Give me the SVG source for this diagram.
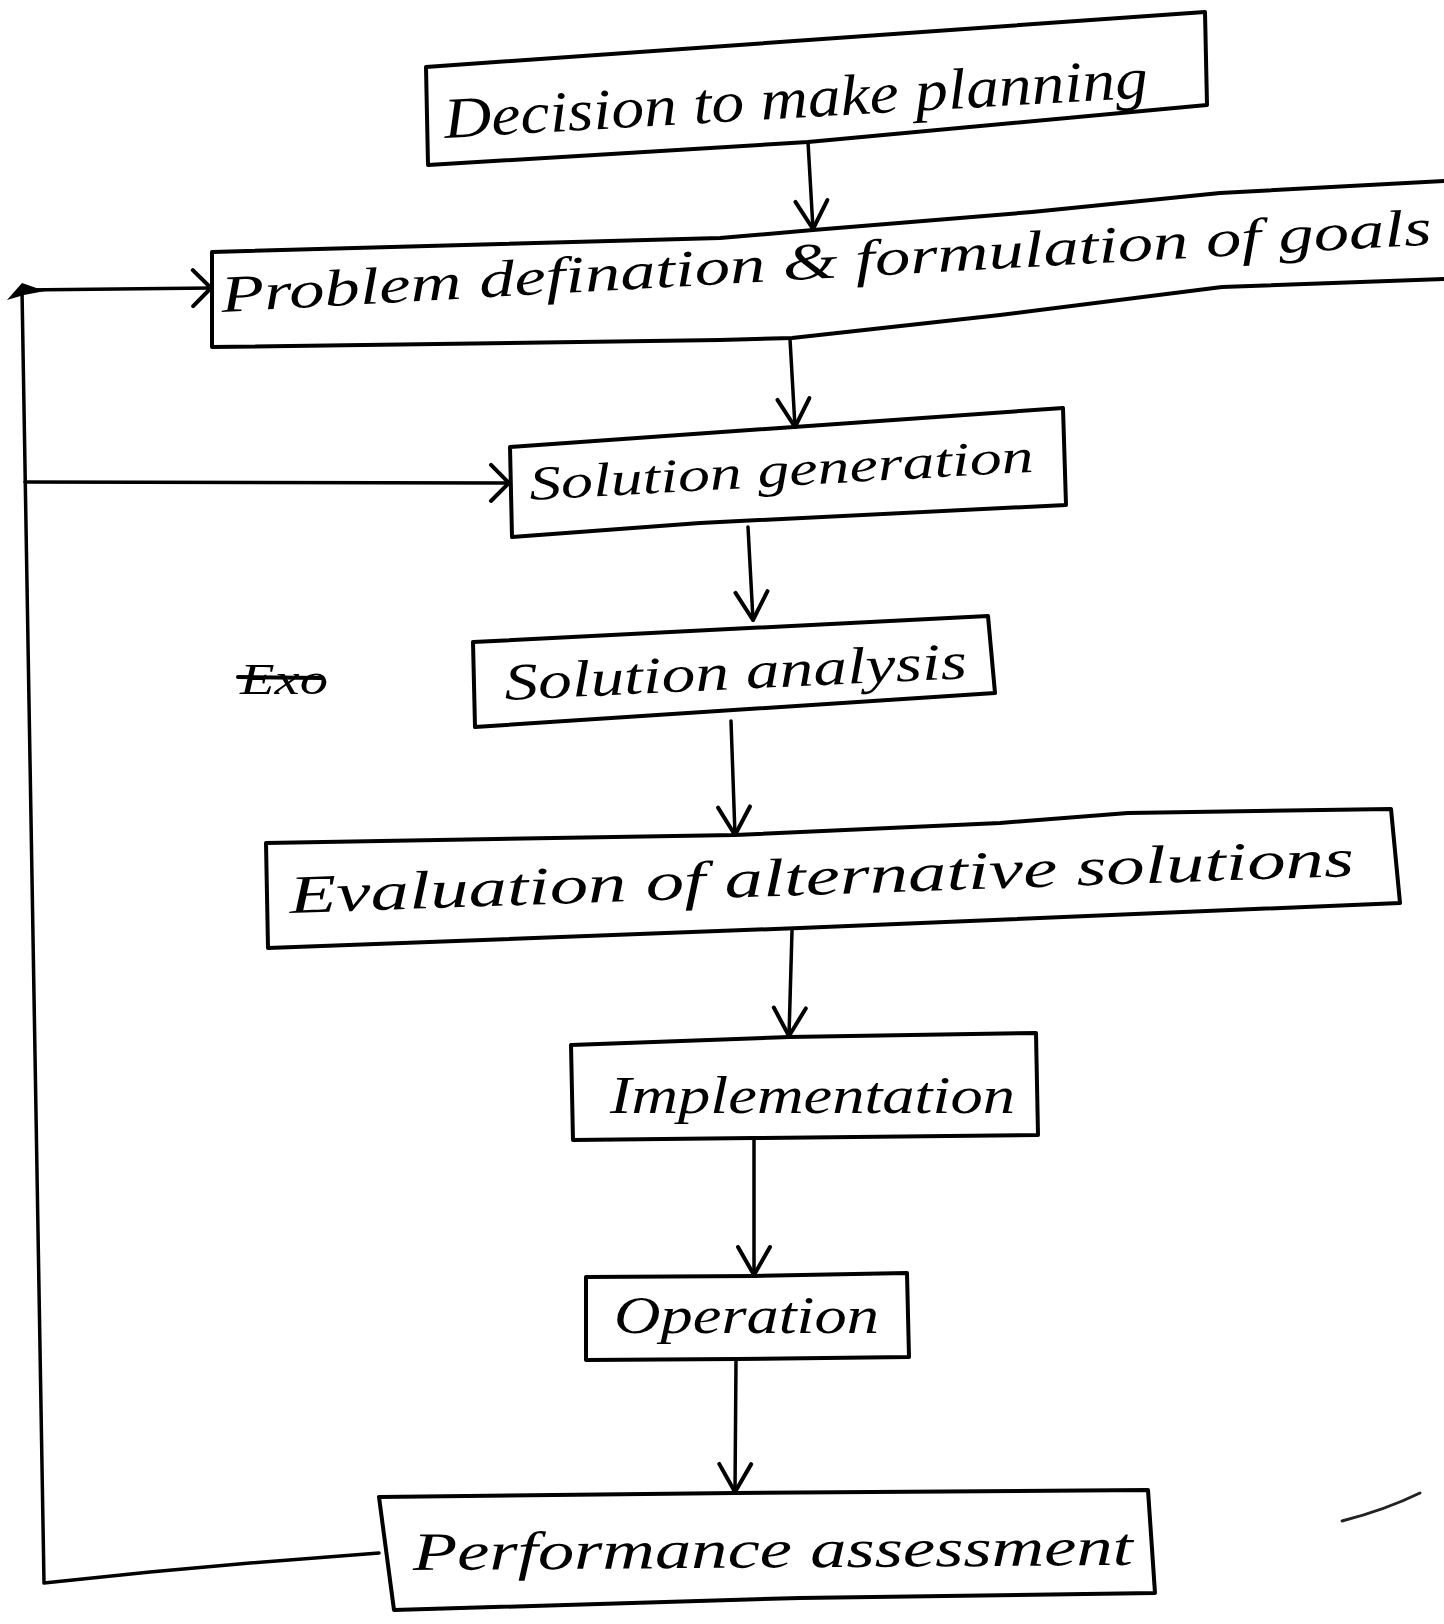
<svg xmlns="http://www.w3.org/2000/svg" width="1444" height="1624" viewBox="0 0 1444 1624">
  <style>
    .box { fill: none; stroke: #000; stroke-width: 4; stroke-linejoin: round; stroke-linecap: round; }
    .con { fill: none; stroke: #000; stroke-width: 3.5; stroke-linecap: round; stroke-linejoin: round; }
    .lbl { font-family: "Liberation Serif", "DejaVu Serif", serif; font-style: italic; fill: #000; }
  </style>
  <defs>
    <marker id="arr" viewBox="-3 -3 34 38" refX="28" refY="16" markerWidth="34" markerHeight="38" markerUnits="userSpaceOnUse" orient="auto">
      <path d="M0,0 L28,16 L0,32" fill="none" stroke="#000" stroke-width="4" stroke-linecap="round" stroke-linejoin="round"/>
    </marker>
    <marker id="arrS" viewBox="-3 -3 24 42" refX="18" refY="18" markerWidth="24" markerHeight="42" markerUnits="userSpaceOnUse" orient="auto">
      <path d="M0,0 L18,18 L0,36" fill="none" stroke="#000" stroke-width="4" stroke-linecap="round" stroke-linejoin="round"/>
    </marker>
  </defs>
  <rect width="1444" height="1624" fill="#fff"/>

  <g id="connectors">
    <path class="con" d="M808,142 L813,229" marker-end="url(#arr)"/>
    <path class="con" d="M790,339 L795,427" marker-end="url(#arr)"/>
    <path class="con" d="M748,527 L753,620" marker-end="url(#arr)"/>
    <path class="con" d="M731,721 L735,835" marker-end="url(#arr)"/>
    <path class="con" d="M792,931 L789,1036" marker-end="url(#arr)"/>
    <path class="con" d="M754,1139 L754,1275" marker-end="url(#arr)"/>
    <path class="con" d="M736,1360 L735,1492" marker-end="url(#arr)"/>
    <path class="con" d="M379,1553 L250,1563 L150,1572 L44,1583 L22,290 L211,288" marker-end="url(#arrS)"/>
    <path class="con" d="M25,482 L509,483" marker-end="url(#arrS)"/>
    <path d="M7,300 L22,283 L45,291 L24,295 Z" fill="#000"/>
  </g>

  <g id="n1">
    <path class="box" d="M426,67 L1205,12 L1207,105 L808,142 L428,165 Z"/>
    <text class="lbl" x="445" y="138" font-size="58" textLength="705" lengthAdjust="spacingAndGlyphs" transform="rotate(-3.3 445 138)">Decision to make planning</text>
  </g>

  <g id="n2">
    <path class="box" d="M1444,181 L1220,193 L1032,212 L813,230 L720,238 L212,252 L212,347 L720,340 L792,338 L1000,315 L1222,287 L1444,279"/>
    <text class="lbl" x="222" y="312" font-size="52" textLength="1212" lengthAdjust="spacingAndGlyphs" transform="rotate(-3.2 222 312)">Problem defination &amp; formulation of goals</text>
  </g>

  <g id="n3">
    <path class="box" d="M510,447 L1063,408 L1066,505 L700,523 L512,537 Z"/>
    <text class="lbl" x="530" y="500" font-size="48" textLength="505" lengthAdjust="spacingAndGlyphs" transform="rotate(-3.2 530 500)">Solution generation</text>
  </g>

  <g id="n4">
    <path class="box" d="M473,642 L988,616 L995,693 L475,727 Z"/>
    <text class="lbl" x="505" y="700" font-size="52" textLength="463" lengthAdjust="spacingAndGlyphs" transform="rotate(-2.7 505 700)">Solution analysis</text>
  </g>

  <g id="strike">
    <text class="lbl" x="240" y="694" font-size="44" textLength="88" lengthAdjust="spacingAndGlyphs">Exo</text>
    <path d="M238,677 L322,678" stroke="#000" stroke-width="4" stroke-linecap="round"/>
  </g>

  <g id="n5">
    <path class="box" d="M266,843 L735,835 L1000,823 L1128,813 L1391,809 L1400,903 L800,928 L268,948 Z"/>
    <text class="lbl" x="290" y="913" font-size="54" textLength="1065" lengthAdjust="spacingAndGlyphs" transform="rotate(-2 290 913)">Evaluation of alternative solutions</text>
  </g>

  <g id="n6">
    <path class="box" d="M571,1045 L789,1037 L1036,1033 L1038,1135 L754,1138 L573,1140 Z"/>
    <text class="lbl" x="610" y="1113" font-size="52" textLength="405" lengthAdjust="spacingAndGlyphs">Implementation</text>
  </g>

  <g id="n7">
    <path class="box" d="M586,1277 L754,1276 L907,1273 L909,1357 L736,1359 L586,1360 Z"/>
    <text class="lbl" x="614" y="1333" font-size="52" textLength="265" lengthAdjust="spacingAndGlyphs">Operation</text>
  </g>

  <g id="n8">
    <path class="box" d="M379,1497 L735,1493 L1148,1490 L1155,1593 L800,1598 L394,1610 Z"/>
    <text class="lbl" x="413" y="1570" font-size="54" textLength="720" lengthAdjust="spacingAndGlyphs" transform="rotate(-0.4 413 1570)">Performance assessment</text>
  </g>

  <path d="M1342,1521 Q1385,1510 1420,1493" fill="none" stroke="#222" stroke-width="3" stroke-linecap="round"/>
</svg>
